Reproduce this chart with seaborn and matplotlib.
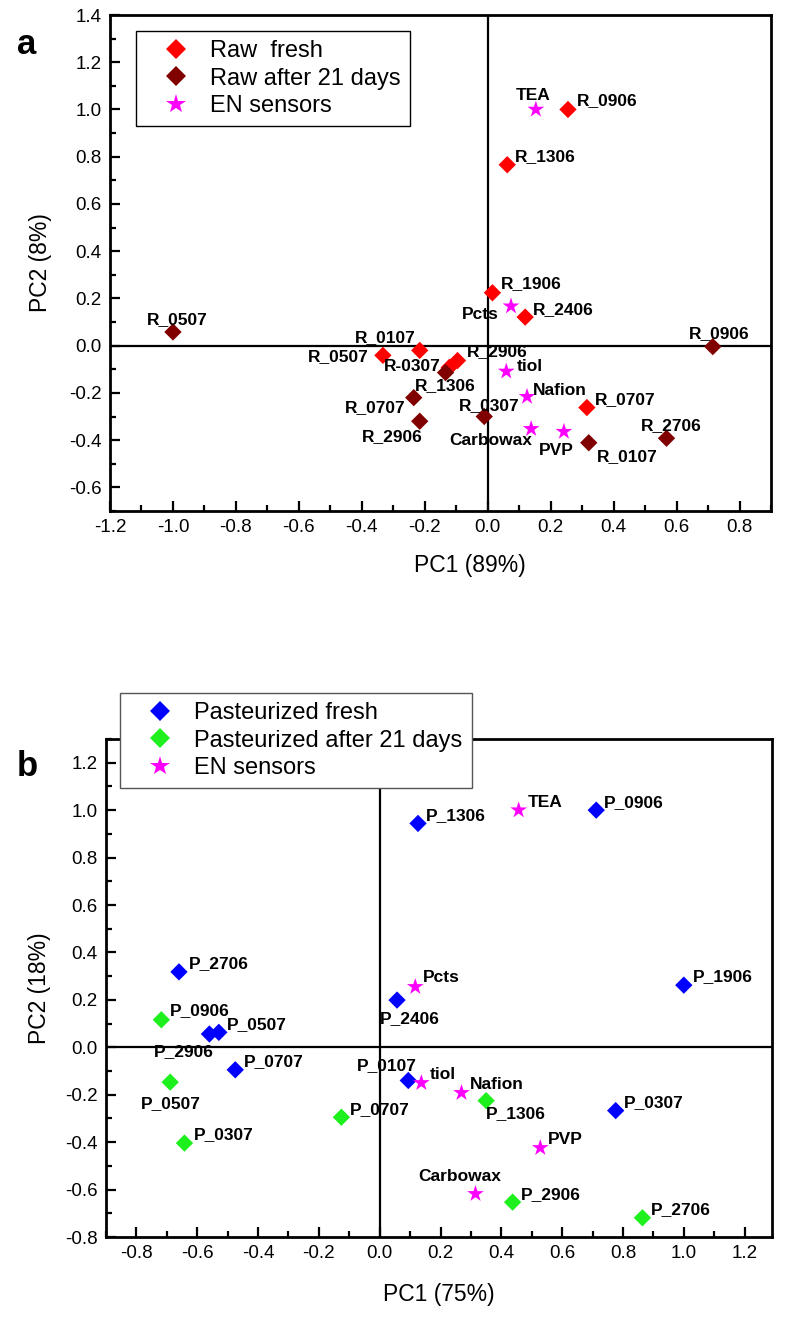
import numpy as np
import pandas as pd
import matplotlib
matplotlib.use('Agg')
import matplotlib.pyplot as plt
from matplotlib.ticker import MultipleLocator, FormatStrFormatter
import seaborn as sns

# ---- panel a : raw milk ----
raw_fresh_names = ['R_0906', 'R_1306', 'R_1906', 'R_2406', 'R_0507', 'R_0107', 'R_2906', 'R-0307', 'R_0707']
raw_fresh_pc1 = [0.255, 0.062, 0.015, 0.119, -0.333, -0.216, -0.096, -0.122, 0.315]
raw_fresh_pc2 = [1.0, 0.766, 0.224, 0.121, -0.041, -0.020, -0.063, -0.092, -0.262]

raw_old_names = ['R_0507', 'R_0906', 'R_1306', 'R_0707', 'R_2906', 'R_0307', 'R_0107', 'R_2706']
raw_old_pc1 = [-1.0, 0.715, -0.134, -0.235, -0.216, -0.011, 0.321, 0.568]
raw_old_pc2 = [0.058, -0.004, -0.114, -0.220, -0.320, -0.300, -0.411, -0.392]

sens_a_names = ['TEA', 'Pcts', 'tiol', 'Nafion', 'Carbowax', 'PVP']
sens_a_pc1 = [0.153, 0.074, 0.059, 0.125, 0.138, 0.242]
sens_a_pc2 = [1.0, 0.167, -0.109, -0.216, -0.352, -0.364]

# ---- panel b : pasteurized milk ----
past_fresh_names = ['P_1306', 'P_0906', 'P_1906', 'P_2406', 'P_2706', 'P_2906', 'P_0507', 'P_0707', 'P_0107', 'P_0307']
past_fresh_pc1 = [0.126, 0.712, 1.0, 0.057, -0.66, -0.560, -0.529, -0.475, 0.094, 0.776]
past_fresh_pc2 = [0.944, 1.0, 0.262, 0.199, 0.318, 0.056, 0.063, -0.095, -0.140, -0.267]

past_old_names = ['P_0906', 'P_0507', 'P_0307', 'P_0707', 'P_1306', 'P_2906', 'P_2706']
past_old_pc1 = [-0.718, -0.689, -0.642, -0.126, 0.350, 0.437, 0.864]
past_old_pc2 = [0.116, -0.147, -0.404, -0.295, -0.225, -0.653, -0.719]

sens_b_names = ['TEA', 'Pcts', 'tiol', 'Nafion', 'PVP', 'Carbowax']
sens_b_pc1 = [0.457, 0.117, 0.137, 0.269, 0.528, 0.315]
sens_b_pc2 = [1.0, 0.255, -0.150, -0.192, -0.424, -0.618]

# label offsets in pixels (dx, dy, ha), same order as the names above
off_raw_fresh = [(9, 9, 'left'), (8, 8, 'left'), (8, 9, 'left'), (8, 8, 'left'), (-14, -1, 'right'),
                 (-4, 13, 'right'), (9, 9, 'left'), (-9, 1, 'right'), (8, 8, 'left')]
off_raw_old = [(4, 12, 'center'), (6, 13, 'center'), (0, -13, 'center'), (-8, -10, 'right'),
               (3, -15, 'right'), (5, 11, 'center'), (8, -14, 'left'), (5, 13, 'center')]
off_sens_a = [(-3, 14, 'center'), (-12, -8, 'right'), (10, 5, 'left'), (6, 6, 'left'),
              (1, -12, 'right'), (-8, -19, 'center')]
off_past_fresh = [(8, 8, 'left'), (8, 8, 'left'), (9, 9, 'left'), (13, -18, 'center'), (10, 8, 'left'),
                  (4, -18, 'right'), (8, 8, 'left'), (9, 8, 'left'), (8, 15, 'right'), (8, 8, 'left')]
off_past_old = [(9, 9, 'left'), (1, -21, 'center'), (9, 9, 'left'), (8, 8, 'left'), (0, -13, 'left'),
                (8, 8, 'left'), (8, 8, 'left')]
off_sens_b = [(9, 8, 'left'), (8, 9, 'left'), (8, 8, 'left'), (8, 8, 'left'), (8, 8, 'left'),
              (-16, 17, 'center')]


def make_df(groups):
    rows = []
    for g, names, xs, ys in groups:
        for n, x, y in zip(names, xs, ys):
            rows.append({'group': g, 'name': n, 'PC1': x, 'PC2': y})
    return pd.DataFrame(rows)


df_a = make_df([('Raw  fresh', raw_fresh_names, raw_fresh_pc1, raw_fresh_pc2),
                ('Raw after 21 days', raw_old_names, raw_old_pc1, raw_old_pc2),
                ('EN sensors', sens_a_names, sens_a_pc1, sens_a_pc2)])
df_b = make_df([('Pasteurized fresh', past_fresh_names, past_fresh_pc1, past_fresh_pc2),
                ('Pasteurized after 21 days', past_old_names, past_old_pc1, past_old_pc2),
                ('EN sensors', sens_b_names, sens_b_pc1, sens_b_pc2)])

sns.set_style('ticks', {'axes.edgecolor': 'black', 'xtick.color': 'black', 'ytick.color': 'black',
                        'text.color': 'black', 'axes.labelcolor': 'black'})
plt.rcParams['font.family'] = ['Liberation Sans', 'DejaVu Sans']
plt.rcParams['axes.unicode_minus'] = False

fig = plt.figure(figsize=(7.85, 13.17), dpi=100)
W, H = 785, 1317
ax1 = fig.add_axes([110 / W, 1 - 511 / H, 661 / W, 496 / H])
ax2 = fig.add_axes([106 / W, 1 - 1237 / H, 666 / W, 498 / H])

pal_a = {'Raw  fresh': '#ff0000', 'Raw after 21 days': '#800000', 'EN sensors': '#ff00ff'}
pal_b = {'Pasteurized fresh': '#0000ff', 'Pasteurized after 21 days': '#1ef01e', 'EN sensors': '#ff00ff'}
mk_a = {'Raw  fresh': 'D', 'Raw after 21 days': 'D', 'EN sensors': '*'}
mk_b = {'Pasteurized fresh': 'D', 'Pasteurized after 21 days': 'D', 'EN sensors': '*'}


def draw(ax, df, pal, mk, offsets, xlim, ylim, xlab, ylab, legpos, legcolor):
    ax.axhline(0, color='k', lw=1.6, zorder=1)
    ax.axvline(0, color='k', lw=1.6, zorder=1)
    sizes = {k: (160 if v == '*' else 78) for k, v in mk.items()}
    sns.scatterplot(data=df, x='PC1', y='PC2', hue='group', style='group', size='group',
                    sizes=sizes, palette=pal, markers=mk, linewidth=0, ax=ax, zorder=3)
    for (i, r), (dx, dy, ha) in zip(df.iterrows(), offsets):
        ax.annotate(r['name'], (r['PC1'], r['PC2']), xytext=(dx, dy), textcoords='offset pixels',
                    ha=ha, va='center', fontsize=12.5, fontweight='bold', color='black', zorder=4)
    ax.set_xlim(*xlim)
    ax.set_ylim(*ylim)
    ax.xaxis.set_major_locator(MultipleLocator(0.2))
    ax.xaxis.set_minor_locator(MultipleLocator(0.1))
    ax.yaxis.set_major_locator(MultipleLocator(0.2))
    ax.yaxis.set_minor_locator(MultipleLocator(0.1))
    ax.xaxis.set_major_formatter(FormatStrFormatter('%.1f'))
    ax.yaxis.set_major_formatter(FormatStrFormatter('%.1f'))
    ax.tick_params(which='major', direction='in', length=7, width=1.6, labelsize=13.5, pad=6,
                   top=False, right=False, colors='black')
    ax.tick_params(which='minor', direction='in', length=4, width=1.6, top=False, right=False)
    for s in ax.spines.values():
        s.set_linewidth(2)
        s.set_color('black')
        s.set_visible(True)
    ax.set_xlabel(xlab, fontsize=16.5)
    ax.set_ylabel(ylab, fontsize=16.5)
    h, l = ax.get_legend_handles_labels()
    ax.get_legend().remove()
    for hh in h:
        hh.set_markeredgewidth(0)
    leg = fig.legend(h, l, loc='upper left', bbox_to_anchor=legpos, fontsize=17, frameon=True,
                     fancybox=False, edgecolor=legcolor, framealpha=1, borderpad=0.4,
                     handletextpad=0.15, labelspacing=0.22, handlelength=2.6, borderaxespad=0,
                     markerscale=1.15)
    leg.get_frame().set_linewidth(1.0)
    return leg


draw(ax1, df_a, pal_a, mk_a, off_raw_fresh + off_raw_old + off_sens_a,
     (-1.2, 0.9), (-0.7, 1.4), 'PC1 (89%)', 'PC2 (8%)', (136 / W, 1 - 31 / H), 'black')
draw(ax2, df_b, pal_b, mk_b, off_past_fresh + off_past_old + off_sens_b,
     (-0.9, 1.29), (-0.8, 1.3), 'PC1 (75%)', 'PC2 (18%)', (120 / W, 1 - 693 / H), '#555555')

ax1.xaxis.set_label_coords(0.545, -0.11)
ax1.yaxis.set_label_coords(-0.105, 0.5)
ax2.xaxis.set_label_coords(0.5, -0.115)
ax2.yaxis.set_label_coords(-0.1, 0.5)
for ax in (ax1, ax2):
    ax.xaxis.label.set_va('center')
    ax.yaxis.label.set_va('center')

fig.text(17 / W, 1 - 45 / H, 'a', fontsize=25, fontweight='bold', va='center')
fig.text(17 / W, 1 - 766 / H, 'b', fontsize=25, fontweight='bold', va='center')

fig.savefig('out.png', dpi=100)
